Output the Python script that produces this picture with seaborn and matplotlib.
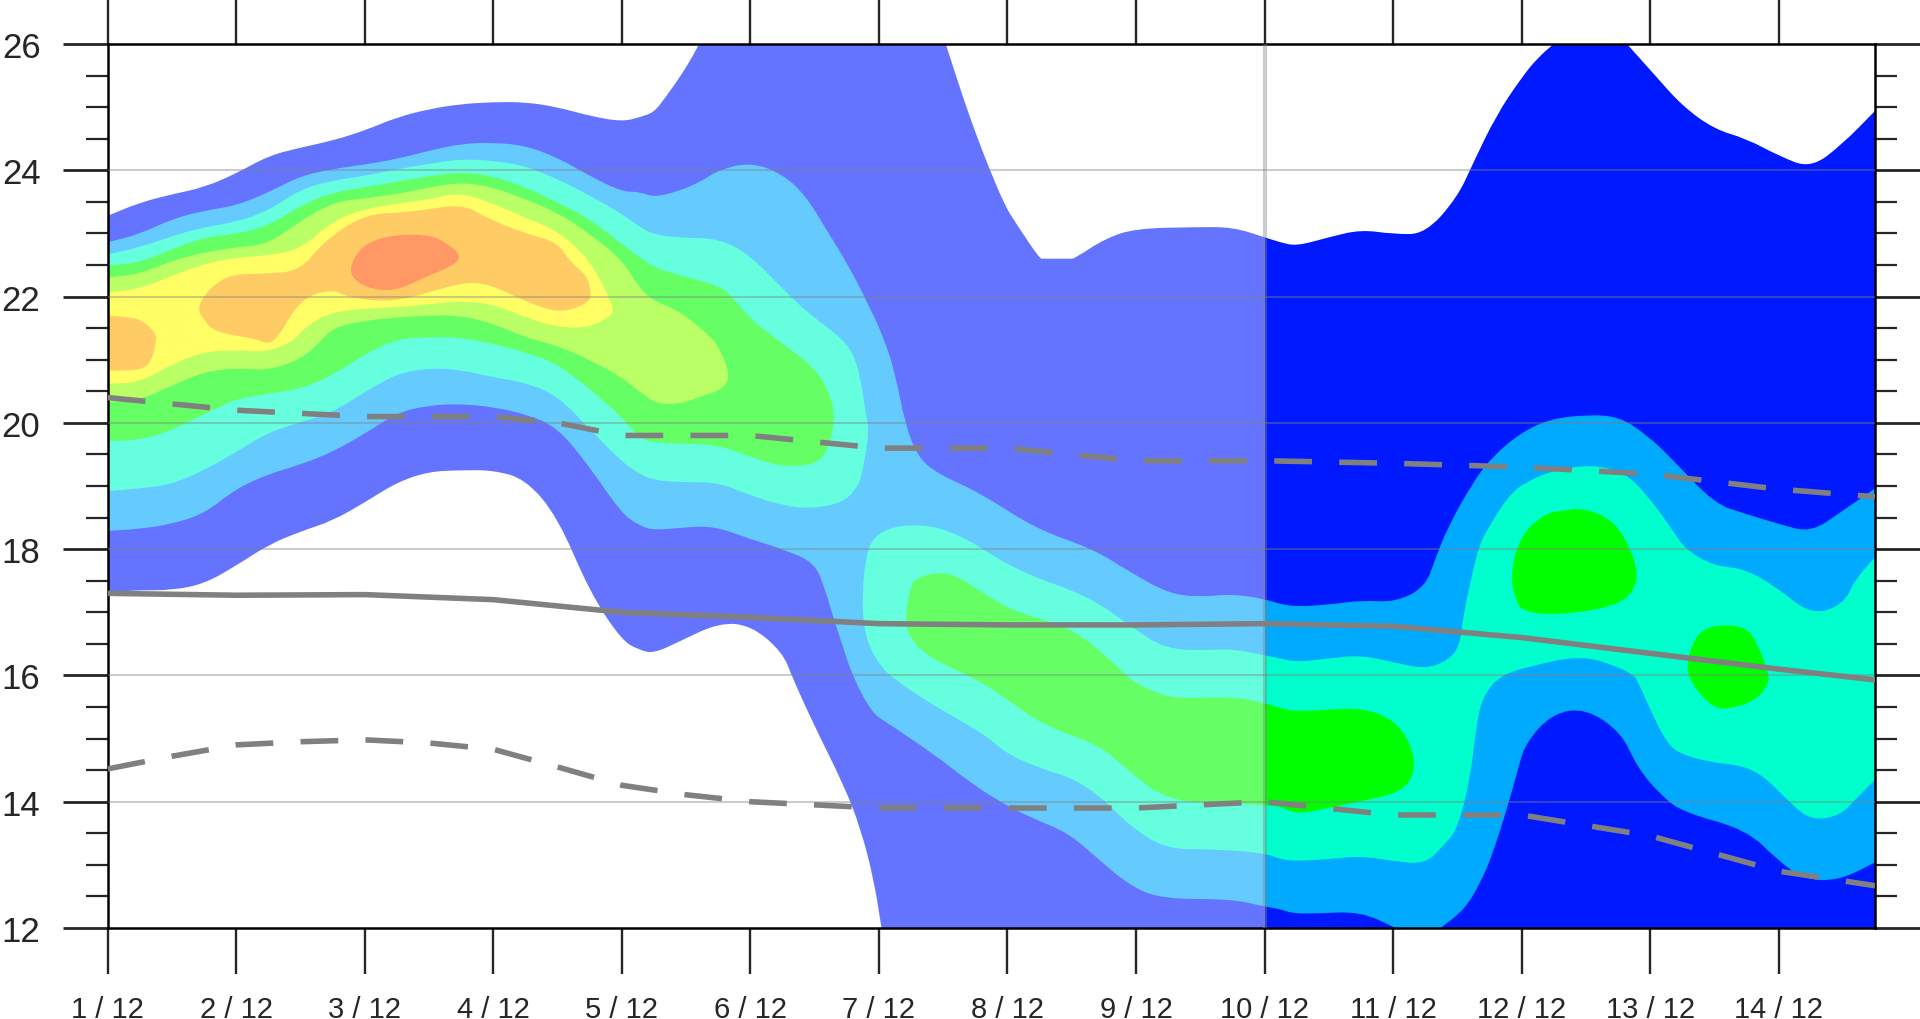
"""
Time/height shaded probability bands with three reference lines.
"""

import matplotlib
matplotlib.use("Agg")
import matplotlib.pyplot as plt
from matplotlib.patches import PathPatch
from matplotlib.path import Path
from matplotlib.ticker import AutoMinorLocator
import seaborn as sns

day_labels = [f"{d} / 12" for d in range(1, 15)]
day_ticks = list(range(14))
y_ticks = list(range(12, 27, 2))

# reference lines
solid_t = [0, 1, 2, 3, 4, 5, 6, 7, 8, 9, 10, 11, 12, 13, 13.75]
solid_v = [17.3, 17.27, 17.28, 17.2, 17.0, 16.92, 16.82, 16.8, 16.8, 16.82, 16.78, 16.6, 16.35, 16.1, 15.93]
dash_hi_t = [0, 1, 2, 3, 3.5, 4, 5, 6, 7, 8, 9, 10, 11, 12, 13, 13.75]
dash_hi_v = [20.4, 20.2, 20.1, 20.1, 20.0, 19.8, 19.8, 19.6, 19.6, 19.4, 19.4, 19.36, 19.3, 19.19, 18.95, 18.83]
dash_lo_t = [0, 0.5, 1, 1.5, 2, 2.5, 3, 3.5, 4, 4.5, 5, 5.5, 6, 7, 8, 9, 10, 11, 12, 13, 13.75]
dash_lo_v = [14.52, 14.72, 14.9, 14.95, 14.98, 14.93, 14.83, 14.55, 14.26, 14.11, 14.0, 13.95, 13.9, 13.9, 13.9, 14.0, 13.79, 13.79, 13.46, 12.9, 12.67]

# level 1
l1_top_t = [0, .25, .5, .75, 1, 1.25, 1.5, 1.75, 2, 2.25, 2.5, 2.75, 3, 3.25, 3.5, 3.75, 4, 4.14, 4.25, 4.33, 4.46, 4.56, 4.6,
            6.52, 6.65, 6.75, 6.85, 6.98, 7.06, 7.25, 7.28, 7.49, 7.52, 7.76, 8, 8.47, 8.75, 9, 9.12, 9.25, 9.5, 9.75, 10, 10.25, 10.5,
            10.62, 10.8, 11, 11.13, 11.25, 11.82, 12.04, 12.25, 12.5, 12.75, 13, 13.25, 13.5, 13.75]
l1_top_v = [23.28, 23.49, 23.62, 23.73, 23.95, 24.23, 24.36, 24.47, 24.63, 24.84, 24.97, 25.05, 25.08, 25.08, 25.0, 24.86, 24.77, 24.84, 24.92, 25.13, 25.5, 25.84, 26,
            26, 25.18, 24.6, 24.07, 23.44, 23.18, 22.6, 22.6, 22.6, 22.6, 22.92, 23.08, 23.1, 23.1, 22.94, 22.86, 22.8, 22.94, 23.06, 22.99, 22.99, 23.57,
            24.1, 24.86, 25.47, 25.79, 26, 26, 25.5, 25.02, 24.65, 24.5, 24.23, 24.03, 24.42, 24.94]
l1_bot_t = [0, .25, .5, .75, 1, 1.25, 1.5, 1.75, 2, 2.25, 2.5, 2.75, 3, 3.25, 3.5, 3.75, 4, 4.14, 4.25, 4.46, 4.75, 5, 5.25, 5.33,
            5.5, 5.73, 5.86, 5.96, 6.02, 13.75]
l1_bot_v = [17.32, 17.35, 17.35, 17.45, 17.74, 18.07, 18.28, 18.45, 18.74, 19.06, 19.23, 19.25, 19.25, 19.11, 18.51, 17.32, 16.55, 16.4, 16.35, 16.55, 16.83, 16.8, 16.37, 15.95,
            15.19, 14.25, 13.56, 12.77, 12, 12]

# level 2
l2_top_t = [0, .25, .5, .75, 1, 1.25, 1.5, 1.75, 2, 2.25, 2.5, 2.75, 3, 3.25, 3.5, 3.75, 4, 4.14, 4.25, 4.46, 4.63, 4.75, 5, 5.25, 5.43, 5.6, 5.76, 5.9, 6.04,
            6.13, 6.2, 6.3, 6.46, 6.78, 7.22, 7.67, 7.95, 8.25, 8.49, 8.75, 9, 9.12, 9.25, 9.5, 9.75, 10.02, 10.25, 10.33, 10.42, 10.62, 10.78, 11, 11.22, 11.51, 11.76, 11.98, 12.17, 12.5, 12.74, 13, 13.25, 13.5, 13.75]
l2_top_v = [22.86, 22.99, 23.23, 23.36, 23.44, 23.65, 23.91, 24.02, 24.09, 24.18, 24.31, 24.42, 24.44, 24.39, 24.2, 23.91, 23.66, 23.66, 23.57, 23.68, 23.84, 24.0, 24.13, 23.94, 23.6, 23.03, 22.5, 21.95, 21.34,
            20.75, 20.01, 19.46, 19.19, 18.9, 18.32, 18.0, 17.64, 17.3, 17.24, 17.29, 17.21, 17.13, 17.09, 17.12, 17.19, 17.16, 17.4, 17.85, 18.32, 19.06, 19.48, 19.85, 20.06, 20.13, 20.1, 19.8, 19.43, 18.72, 18.56, 18.4, 18.26, 18.61, 18.96]
l2_bot_t = [0, .25, .5, .75, 1, 1.25, 1.5, 1.75, 2, 2.25, 2.5, 2.75, 3, 3.25, 3.5, 3.75, 4, 4.14, 4.25, 4.46, 4.71, 5, 5.25, 5.5, 5.58, 5.64, 5.7, 5.8,
            5.95, 6.05, 6.43, 6.68, 6.93, 7.18, 7.47, 7.68, 7.95, 8.2, 8.74, 9, 9.12, 9.22, 9.4, 9.75, 10.02, 10.37, 10.56, 10.68, 10.77, 10.9, 10.97, 11.03, 11.24, 11.5, 11.78, 11.9, 12.09, 12.26, 12.75, 13, 13.2, 13.47, 13.75]
l2_bot_v = [18.29, 18.32, 18.4, 18.56, 18.96, 19.19, 19.34, 19.54, 19.83, 20.16, 20.28, 20.3, 20.25, 20.14, 19.93, 19.3, 18.56, 18.37, 18.3, 18.34, 18.37, 18.16, 18.0, 17.79, 17.37, 16.95, 16.58, 15.95,
            15.4, 15.27, 14.75, 14.35, 14.01, 13.75, 13.51, 13.14, 12.67, 12.46, 12.46, 12.34, 12.3, 12.23, 12.23, 12.26, 12, 12, 12.3, 12.72, 13.14, 13.98, 14.5, 14.93, 15.4, 15.48, 15.09, 14.54, 14.09, 13.83, 13.56, 13.06, 12.77, 12.75, 13.04]

# level 3, upper lobe
l3a_top_t = [0, .25, .5, .75, 1, 1.25, 1.5, 1.75, 2, 2.25, 2.5, 2.75, 3, 3.25, 3.5, 3.75, 4, 4.14, 4.25, 4.46, 4.76, 5, 5.25, 5.47, 5.72, 5.82, 5.87, 5.9, 5.92]
l3a_top_v = [22.67, 22.78, 22.96, 23.1, 23.18, 23.36, 23.7, 23.84, 23.91, 24.02, 24.1, 24.18, 24.15, 24.07, 23.86, 23.6, 23.31, 23.1, 22.98, 22.93, 22.92, 22.65, 22.12, 21.7, 21.33, 21.01, 20.54, 20.12, 19.9]
l3a_bot_t = [0, .25, .5, .75, 1, 1.25, 1.5, 1.75, 2, 2.25, 2.5, 2.75, 3, 3.25, 3.5, 3.75, 4, 4.14, 4.25, 4.46, 4.75, 5, 5.25, 5.48, 5.72, 5.82, 5.86, 5.9, 5.92]
l3a_bot_v = [18.92, 18.96, 19.03, 19.25, 19.54, 19.85, 20.01, 20.17, 20.49, 20.78, 20.87, 20.84, 20.72, 20.64, 20.43, 19.9, 19.38, 19.19, 19.09, 19.06, 19.06, 18.85, 18.69, 18.64, 18.74, 18.95, 19.11, 19.54, 19.9]

# level 3, lower lobe
l3b_top_t = [5.87, 5.9, 5.95, 6.06, 6.23, 6.47, 6.73, 6.92, 7.18, 7.5, 7.72, 7.95, 8.23, 8.58, 8.75, 9, 9.12, 9.25, 9.5, 9.75, 10, 10.25, 10.43, 10.52, 10.55, 10.62, 10.67, 10.75, 10.9, 11.03, 11.25, 11.54, 11.8, 11.98, 12.17, 12.27, 12.5, 12.72, 12.97, 13.25, 13.5, 13.6, 13.75]
l3b_top_v = [17.32, 17.9, 18.16, 18.32, 18.39, 18.35, 18.11, 17.85, 17.58, 17.35, 17.13, 16.79, 16.41, 16.4, 16.42, 16.32, 16.27, 16.21, 16.27, 16.32, 16.21, 16.1, 16.24, 16.47, 17.0, 17.64, 18.06, 18.37, 18.85, 19.06, 19.25, 19.34, 19.22, 18.85, 18.32, 18.0, 17.73, 17.7, 17.42, 16.96, 17.11, 17.53, 17.87]
l3b_bot_t = [5.87, 5.88, 5.93, 6.03, 6.13, 6.35, 6.58, 6.84, 7.0, 7.28, 7.5, 7.72, 7.95, 8.23, 8.58, 9, 9.12, 9.25, 9.5, 9.75, 10, 10.25, 10.39, 10.5, 10.6, 10.65, 10.7, 10.83, 11.09, 11.47, 11.76, 11.87, 11.9, 12.0, 12.13, 12.24, 12.48, 12.73, 12.9, 13.09, 13.25, 13.47, 13.6, 13.75]
l3b_bot_v = [17.32, 16.79, 16.42, 16.1, 15.93, 15.62, 15.35, 15.04, 14.75, 14.51, 14.38, 14.09, 13.62, 13.25, 13.25, 13.19, 13.09, 13.06, 13.09, 13.14, 13.06, 13.01, 13.3, 13.56, 14.35, 15.25, 15.67, 16.0, 16.16, 16.32, 16.13, 16.0, 15.93, 15.46, 14.93, 14.75, 14.62, 14.57, 14.38, 13.98, 13.71, 13.77, 14.04, 14.35]

# level 4, upper lobe
l4a_top_t = [0, .25, .5, .75, 1, 1.25, 1.5, 1.75, 2, 2.25, 2.5, 2.75, 3, 3.25, 3.5, 3.75, 4, 4.14, 4.25, 4.46, 4.71, 4.83, 5, 5.2, 5.5, 5.62, 5.66]
l4a_top_v = [22.49, 22.54, 22.75, 22.94, 22.99, 23.12, 23.44, 23.65, 23.73, 23.82, 23.91, 23.97, 23.91, 23.73, 23.49, 23.23, 22.83, 22.62, 22.46, 22.33, 22.2, 22.07, 21.64, 21.33, 20.88, 20.46, 20.06]
l4a_bot_t = [0, .25, .5, .75, 1, 1.25, 1.5, 1.75, 2, 2.25, 2.5, 2.75, 3, 3.25, 3.5, 3.75, 4, 4.14, 4.25, 4.46, 4.75, 5, 5.25, 5.5, 5.6, 5.66]
l4a_bot_v = [19.71, 19.73, 19.88, 20.14, 20.38, 20.46, 20.54, 20.75, 21.09, 21.33, 21.36, 21.35, 21.25, 21.12, 20.93, 20.54, 20.09, 19.75, 19.69, 19.67, 19.65, 19.46, 19.3, 19.34, 19.54, 20.06]

# level 4, lower lobe
l4b_top_t = [6.2, 6.24, 6.29, 6.54, 6.8, 7.03, 7.47, 7.72, 7.95, 8, 8.27, 8.72, 9, 9.12, 9.25, 9.5, 9.75, 9.95, 10.07, 10.15, 10.17]
l4b_top_v = [16.84, 17.37, 17.56, 17.66, 17.32, 17.03, 16.77, 16.4, 15.95, 15.88, 15.62, 15.67, 15.57, 15.48, 15.43, 15.46, 15.48, 15.35, 15.14, 14.83, 14.56]
l4b_bot_t = [6.2, 6.25, 6.33, 6.46, 6.75, 7, 7.27, 7.73, 7.9, 8.25, 8.75, 9, 9.12, 9.25, 9.5, 9.75, 10.01, 10.13, 10.17]
l4b_bot_v = [16.84, 16.58, 16.4, 16.21, 15.95, 15.62, 15.22, 14.88, 14.56, 14.0, 13.98, 13.94, 13.93, 13.8, 13.9, 14.01, 14.12, 14.3, 14.56]

# level 4, right islands
l4c_top_t = [10.91, 10.99, 11.18, 11.31, 11.49, 11.72, 11.85, 11.91]
l4c_top_v = [17.58, 18.22, 18.56, 18.61, 18.65, 18.45, 18.0, 17.58]
l4c_bot_t = [10.91, 10.96, 11.01, 11.18, 11.47, 11.72, 11.85, 11.91]
l4c_bot_v = [17.58, 17.16, 17.03, 16.96, 17.0, 17.11, 17.27, 17.58]
l4d_top_t = [12.28, 12.36, 12.5, 12.74, 12.83, 12.93]
l4d_top_v = [16.2, 16.66, 16.8, 16.78, 16.53, 16.0]
l4d_bot_t = [12.28, 12.31, 12.49, 12.65, 12.83, 12.91, 12.93]
l4d_bot_v = [16.2, 15.9, 15.47, 15.48, 15.62, 15.83, 16.0]

# level 5
l5_top_t = [0, .25, .5, .75, 1, 1.25, 1.5, 1.75, 2, 2.25, 2.5, 2.75, 3, 3.25, 3.5, 3.75, 4, 4.14, 4.25, 4.46, 4.71, 4.75, 4.84]
l5_top_v = [22.3, 22.36, 22.57, 22.7, 22.78, 22.83, 23.2, 23.49, 23.56, 23.62, 23.73, 23.81, 23.73, 23.54, 23.33, 22.99, 22.59, 22.12, 21.93, 21.76, 21.33, 21.2, 20.8]
l5_bot_t = [0, .25, .5, .75, 1, 1.25, 1.5, 1.64, 1.75, 2, 2.25, 2.5, 2.75, 3, 3.25, 3.5, 3.75, 4, 4.14, 4.27, 4.46, 4.6, 4.8, 4.84]
l5_bot_v = [20.33, 20.36, 20.59, 20.81, 20.87, 20.83, 21.01, 21.25, 21.51, 21.62, 21.67, 21.7, 21.7, 21.57, 21.35, 21.22, 21.0, 20.72, 20.49, 20.3, 20.3, 20.41, 20.54, 20.8]

# level 6
l6_top_t = [0, .25, .5, .75, 1, 1.25, 1.5, 1.75, 2, 2.25, 2.5, 2.75, 3, 3.25, 3.5, 3.75, 3.94]
l6_top_v = [22.07, 22.12, 22.33, 22.52, 22.62, 22.65, 22.75, 23.2, 23.39, 23.47, 23.54, 23.65, 23.47, 23.25, 23.04, 22.59, 21.83]
l6_bot_t = [0, .25, .5, .75, 1, 1.24, 1.45, 1.53, 1.75, 2.25, 2.5, 2.75, 3, 3.25, 3.5, 3.75, 3.92, 3.94]
l6_bot_v = [20.62, 20.64, 20.93, 21.13, 21.15, 21.12, 21.3, 21.51, 21.78, 21.83, 21.88, 21.93, 21.88, 21.67, 21.51, 21.51, 21.7, 21.83]

# level 7
l7a_top_t = [0, .18, .27, .37, .38]
l7a_top_v = [21.7, 21.67, 21.62, 21.43, 21.3]
l7a_bot_t = [0, .26, .34, .38]
l7a_bot_v = [20.83, 20.83, 20.98, 21.3]
l7b_top_t = [.69, .81, .97, 1.22, 1.5, 1.67, 2, 2.33, 2.76, 2.94, 3.26, 3.5, 3.6, 3.73, 3.76]
l7b_top_v = [21.83, 22.17, 22.36, 22.36, 22.41, 22.86, 23.31, 23.33, 23.47, 23.25, 22.99, 22.86, 22.54, 22.33, 22.07]
l7b_bot_t = [.69, .75, .84, 1.16, 1.24, 1.32, 1.5, 1.75, 1.86, 2.24, 2.75, 2.97, 3.26, 3.5, 3.67, 3.75, 3.76]
l7b_bot_v = [21.83, 21.62, 21.43, 21.33, 21.25, 21.33, 21.97, 22.12, 21.99, 21.9, 22.23, 22.2, 21.91, 21.75, 21.83, 21.94, 22.07]

# level 8
l8_top_t = [1.88, 1.94, 2.03, 2.22, 2.51, 2.65, 2.75]
l8_top_v = [22.44, 22.7, 22.86, 22.98, 22.98, 22.83, 22.65]
l8_bot_t = [1.88, 1.92, 2.05, 2.24, 2.46, 2.69, 2.75]
l8_bot_v = [22.44, 22.25, 22.12, 22.09, 22.3, 22.49, 22.65]

level_colors = ["#0019FF", "#00AAFF", "#00FFCC", "#00FF00", "#8DFF00", "#FFFF00", "#FFAA00", "#FF5500"]


def region_path(top_t, top_v, bot_t, bot_v):
    """Closed outline through the read edges, rounded except on the axes frame."""
    pts = []
    for p in list(zip(top_t, top_v)) + list(zip(bot_t, bot_v))[::-1]:
        if not pts or p != pts[-1]:
            pts.append(p)
    if pts[0] == pts[-1]:
        pts.pop()

    def mid(a, b):
        return ((a[0] + b[0]) / 2, (a[1] + b[1]) / 2)

    verts = [mid(pts[-1], pts[0])]
    codes = [Path.MOVETO]
    for i, p in enumerate(pts):
        end = mid(p, pts[(i + 1) % len(pts)])
        verts += [p, end]
        if p[0] in (0, 13.75) or p[1] in (12, 26):
            codes += [Path.LINETO, Path.LINETO]
        else:
            codes += [Path.CURVE3, Path.CURVE3]
    return Path(verts, codes)


sns.set_style("white")
plt.rcParams["font.family"] = ["Liberation Sans", "DejaVu Sans"]

fig = plt.figure(figsize=(19.2, 10.2), dpi=100)
ax = fig.add_axes([107.8 / 1920, 91 / 1020, (1875 - 107.8) / 1920, 884 / 1020])

regions = [
    (0, l1_top_t, l1_top_v, l1_bot_t, l1_bot_v),
    (1, l2_top_t, l2_top_v, l2_bot_t, l2_bot_v),
    (2, l3a_top_t, l3a_top_v, l3a_bot_t, l3a_bot_v),
    (2, l3b_top_t, l3b_top_v, l3b_bot_t, l3b_bot_v),
    (3, l4a_top_t, l4a_top_v, l4a_bot_t, l4a_bot_v),
    (3, l4b_top_t, l4b_top_v, l4b_bot_t, l4b_bot_v),
    (3, l4c_top_t, l4c_top_v, l4c_bot_t, l4c_bot_v),
    (3, l4d_top_t, l4d_top_v, l4d_bot_t, l4d_bot_v),
    (4, l5_top_t, l5_top_v, l5_bot_t, l5_bot_v),
    (5, l6_top_t, l6_top_v, l6_bot_t, l6_bot_v),
    (6, l7a_top_t, l7a_top_v, l7a_bot_t, l7a_bot_v),
    (6, l7b_top_t, l7b_top_v, l7b_bot_t, l7b_bot_v),
    (7, l8_top_t, l8_top_v, l8_bot_t, l8_bot_v),
]
for level, top_t, top_v, bot_t, bot_v in regions:
    ax.add_patch(PathPatch(region_path(top_t, top_v, bot_t, bot_v), facecolor=level_colors[level],
                           edgecolor="none", linewidth=0, zorder=1))

# everything before 10/12 is washed out
ax.axvspan(0, 9, color="white", alpha=0.4, linewidth=0, zorder=2)

for y in y_ticks[1:-1]:
    ax.axhline(y, color="#808080", alpha=0.4, linewidth=1.5, zorder=3)
ax.axvline(9, color="#808080", alpha=0.4, linewidth=3, zorder=3)

sns.lineplot(x=solid_t, y=solid_v, color="#808080", linewidth=4, errorbar=None, legend=False, ax=ax, zorder=4)
for line_t, line_v in [(dash_hi_t, dash_hi_v), (dash_lo_t, dash_lo_v)]:
    sns.lineplot(x=line_t, y=line_v, color="#808080", linewidth=4, errorbar=None, legend=False, ax=ax,
                 linestyle=(0, (6.8, 4.9)), zorder=4)

ax.set_xlim(0, 13.75)
ax.set_ylim(12, 26)
ax.set_xticks(day_ticks)
ax.set_xticklabels(day_labels)
ax.set_yticks(y_ticks)
ax.yaxis.set_minor_locator(AutoMinorLocator(4))
ax.tick_params(axis="x", which="major", direction="out", length=33, width=1.7, top=True, bottom=True, labelsize=21, pad=15)
ax.tick_params(axis="y", which="major", direction="out", length=32.5, width=2, left=True, right=True, labelsize=25, pad=16)
ax.tick_params(axis="y", which="minor", direction="out", length=16, width=1.6, left=True, right=True)
for spine in ax.spines.values():
    spine.set_visible(True)
    spine.set_color("black")
    spine.set_linewidth(1.8)

fig.savefig("out.png", dpi=100)
